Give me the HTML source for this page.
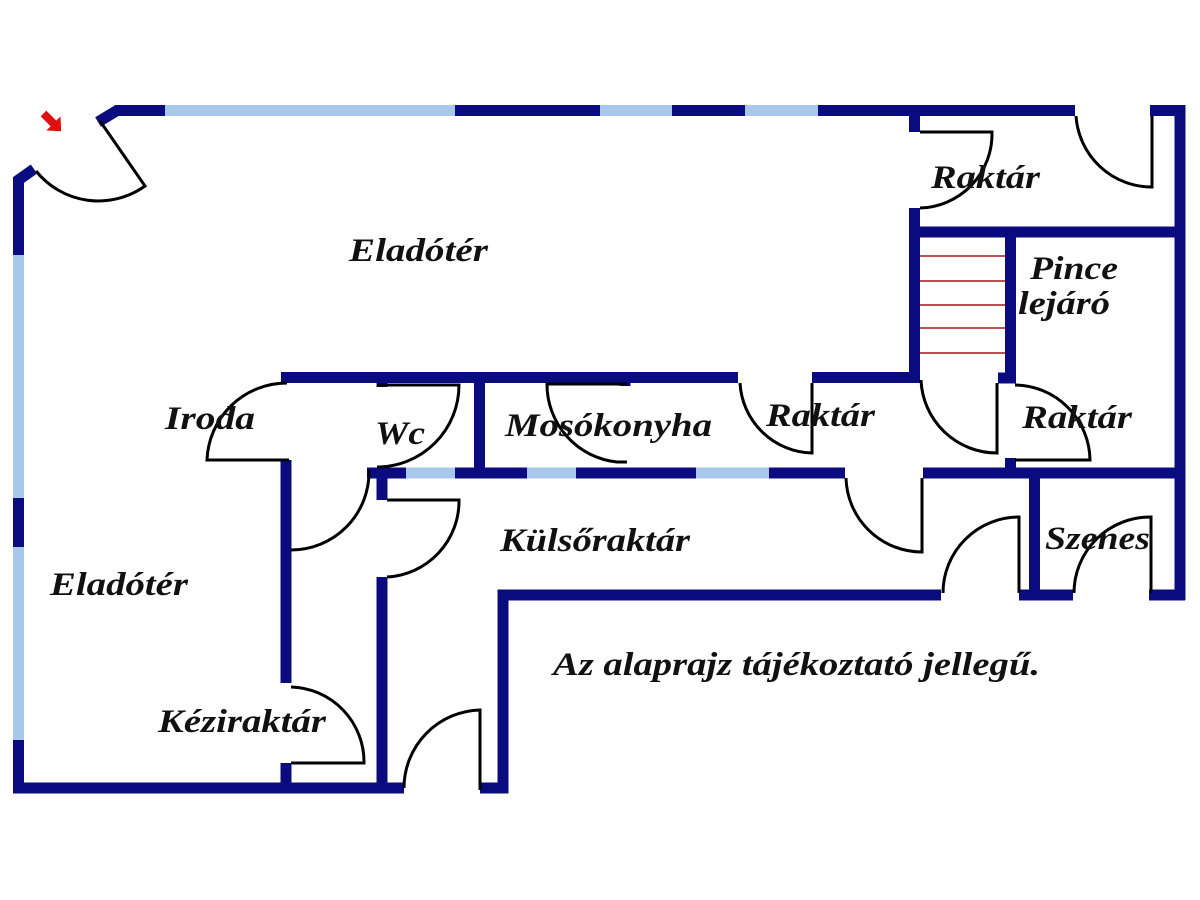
<!DOCTYPE html>
<html><head><meta charset="utf-8"><style>html,body{margin:0;padding:0;background:#fff}svg{display:block}</style></head>
<body>
<svg width="1200" height="900" viewBox="0 0 1200 900" xmlns="http://www.w3.org/2000/svg">
<rect width="1200" height="900" fill="#fff"/>
<g stroke="#0b0b80" stroke-width="11" fill="none" stroke-linecap="butt">
<polyline points="98,122 117,110.5 165,110.5"/>
<line x1="455" y1="110.5" x2="600" y2="110.5"/>
<line x1="672" y1="110.5" x2="745" y2="110.5"/>
<line x1="818" y1="110.5" x2="1075" y2="110.5"/>
<polyline points="1150,110.5 1180,110.5 1180,600"/>
<polyline points="34,169 18.5,180 18.5,255"/>
<line x1="18.5" y1="498" x2="18.5" y2="547"/>
<polyline points="18.5,740 18.5,788 404,788"/>
<line x1="914.5" y1="105" x2="914.5" y2="132"/>
<line x1="914.5" y1="208" x2="914.5" y2="383"/>
<line x1="909" y1="232" x2="1185" y2="232"/>
<line x1="1010.5" y1="232" x2="1010.5" y2="383"/>
<line x1="998" y1="378" x2="1016" y2="378"/>
<line x1="281" y1="377.5" x2="738" y2="377.5"/>
<line x1="812" y1="377.5" x2="920" y2="377.5"/>
<line x1="382" y1="372" x2="382" y2="387"/>
<line x1="479.5" y1="372" x2="479.5" y2="468"/>
<line x1="625" y1="372" x2="625" y2="386"/>
<line x1="367" y1="473" x2="406" y2="473"/>
<line x1="455" y1="473" x2="527" y2="473"/>
<line x1="576" y1="473" x2="696" y2="473"/>
<line x1="769" y1="473" x2="845" y2="473"/>
<line x1="923" y1="473" x2="1185" y2="473"/>
<line x1="1010.5" y1="458" x2="1010.5" y2="473"/>
<line x1="286" y1="460" x2="286" y2="683"/>
<line x1="286" y1="763" x2="286" y2="793"/>
<line x1="382" y1="468" x2="382" y2="500"/>
<line x1="382" y1="577" x2="382" y2="793"/>
<polyline points="480,788 503,788 503,595 941,595"/>
<line x1="1019" y1="595" x2="1073" y2="595"/>
<line x1="1149" y1="595" x2="1185" y2="595"/>
<line x1="1034.5" y1="478" x2="1034.5" y2="600"/>
</g>
<g stroke="#a8c8ea" stroke-width="11" fill="none">
<line x1="165" y1="110.5" x2="455" y2="110.5"/>
<line x1="600" y1="110.5" x2="672" y2="110.5"/>
<line x1="745" y1="110.5" x2="818" y2="110.5"/>
<line x1="18.5" y1="255" x2="18.5" y2="498"/>
<line x1="18.5" y1="547" x2="18.5" y2="740"/>
<line x1="406" y1="473" x2="455" y2="473"/>
<line x1="527" y1="473" x2="576" y2="473"/>
<line x1="696" y1="473" x2="769" y2="473"/>
</g>
<g stroke="#c05050" stroke-width="2">
<line x1="920" y1="256" x2="1005" y2="256"/>
<line x1="920" y1="281" x2="1005" y2="281"/>
<line x1="920" y1="305" x2="1005" y2="305"/>
<line x1="920" y1="328" x2="1005" y2="328"/>
<line x1="920" y1="353" x2="1005" y2="353"/>
</g>
<g stroke="#000" stroke-width="3" fill="none">
<path d="M100,121 L145,186 A80,80 0 0 1 36,171"/>
<path d="M920,132 L992,132 A74,74 0 0 1 920,208"/>
<path d="M1152,116 L1152,187 A76,76 0 0 1 1076,116"/>
<path d="M289,460 L207,460 A80,80 0 0 1 287,383"/>
<path d="M377,385 L459,385 A82,82 0 0 1 377,467"/>
<path d="M627,462 L617,462 A78,78 0 0 1 547,384 L627,384"/>
<path d="M812,383 L812,453 A74,74 0 0 1 740,383"/>
<path d="M997,383 L997,453 A76,76 0 0 1 921,380"/>
<path d="M1015,460 L1090,460 A76,76 0 0 0 1015,385"/>
<path d="M369,470 A78,78 0 0 1 291,550"/>
<path d="M387,500 L459,500 A76,76 0 0 1 387,577"/>
<path d="M291,763 L364,763 A75,75 0 0 0 291,687"/>
<path d="M480,790 L480,710 A78,78 0 0 0 404,788"/>
<path d="M846,478 A76,76 0 0 0 922,552 L922,478"/>
<path d="M1019,593 L1019,517 A76,76 0 0 0 943,593"/>
<path d="M1151,593 L1151,517 A76,76 0 0 0 1074,593"/>
</g>
<g transform="translate(52,122) rotate(45)">
<polygon points="-12,-4 2,-4 2,-10 13,0 2,10 2,4 -12,4" fill="#e01010"/>
</g>
<g font-family="'Liberation Serif', serif" font-style="italic" font-weight="bold" font-size="33" fill="#111">
<text x="349" y="261" textLength="139" lengthAdjust="spacingAndGlyphs">Eladótér</text>
<text x="931" y="188" textLength="109" lengthAdjust="spacingAndGlyphs">Raktár</text>
<text x="1030" y="279" textLength="88" lengthAdjust="spacingAndGlyphs">Pince</text>
<text x="1018" y="314" textLength="92" lengthAdjust="spacingAndGlyphs">lejáró</text>
<text x="165" y="429" textLength="90" lengthAdjust="spacingAndGlyphs">Iroda</text>
<text x="375" y="444" textLength="50" lengthAdjust="spacingAndGlyphs">Wc</text>
<text x="505" y="436" textLength="207" lengthAdjust="spacingAndGlyphs">Mosókonyha</text>
<text x="766" y="426" textLength="109" lengthAdjust="spacingAndGlyphs">Raktár</text>
<text x="1022" y="428" textLength="110" lengthAdjust="spacingAndGlyphs">Raktár</text>
<text x="500" y="551" textLength="190" lengthAdjust="spacingAndGlyphs">Külsőraktár</text>
<text x="1045" y="549" textLength="105" lengthAdjust="spacingAndGlyphs">Szenes</text>
<text x="50" y="595" textLength="138" lengthAdjust="spacingAndGlyphs">Eladótér</text>
<text x="158" y="732" textLength="168" lengthAdjust="spacingAndGlyphs">Kéziraktár</text>
<text x="553" y="675" textLength="487" lengthAdjust="spacingAndGlyphs">Az alaprajz tájékoztató jellegű.</text>
</g>
</svg>
</body></html>
